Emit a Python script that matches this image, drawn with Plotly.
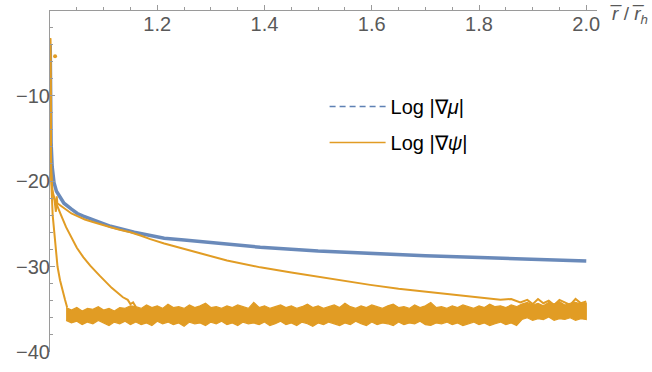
import plotly.graph_objects as go

# ---------------- data ----------------
MU_X = [1.0004, 1.001, 1.002, 1.004, 1.0075, 1.012, 1.019, 1.026, 1.04, 1.051, 1.062,
        1.082, 1.113, 1.157, 1.187, 1.213, 1.25, 1.3, 1.392, 1.5, 1.597, 1.7, 1.802, 1.9, 2.0]
MU_Y = [-4.0, -10.0, -15.5, -18.3, -20.2, -21.2, -22.0, -22.6, -23.3, -23.8, -24.1,
        -24.6, -25.3, -26.0, -26.4, -26.7, -26.9, -27.2, -27.75, -28.2, -28.5, -28.75, -28.95, -29.15, -29.35]

PSI_A_X = [1.0004, 1.001, 1.002, 1.004, 1.008, 1.011, 1.0125, 1.0137, 1.016, 1.02, 1.03, 1.04,
           1.051, 1.065, 1.08, 1.095, 1.113, 1.13, 1.15, 1.17, 1.187, 1.213, 1.25, 1.28, 1.33,
           1.392, 1.45, 1.498, 1.55, 1.597, 1.65, 1.721, 1.76, 1.802, 1.84, 1.86, 1.877, 1.89,
           1.9, 1.91, 1.92, 1.93, 1.94, 1.95, 1.96, 1.97, 1.98, 1.99, 2.0]
PSI_A_Y = [-3.3, -12.0, -18.5, -21.0, -22.0, -23.6, -21.8, -22.6, -22.7, -22.9, -23.4, -23.8,
           -24.1, -24.5, -24.8, -25.1, -25.4, -25.7, -26.0, -26.4, -26.8, -27.3, -27.9, -28.45, -29.3,
           -30.1, -30.7, -31.2, -31.7, -32.15, -32.6, -33.1, -33.4, -33.7, -33.9, -33.8, -34.2, -33.9,
           -34.4, -33.8, -34.3, -34.0, -34.5, -33.9, -34.2, -34.5, -33.8, -34.3, -34.1]

PSI_B_X = [1.0004, 1.002, 1.005, 1.01, 1.02, 1.03, 1.04, 1.05, 1.062, 1.075, 1.093, 1.115,
           1.136, 1.145, 1.15, 1.155, 1.16]
PSI_B_Y = [-3.3, -19.0, -21.6, -22.3, -23.9, -25.4, -26.7, -27.8, -28.9, -29.9, -31.1, -32.5,
           -33.6, -33.9, -34.4, -34.2, -34.7]

PSI_C_X = [1.0004, 1.001, 1.0023, 1.005, 1.0093, 1.014, 1.0187, 1.023, 1.028, 1.032]
PSI_C_Y = [-3.3, -14.0, -20.0, -24.0, -27.0, -30.0, -31.6, -32.8, -33.9, -34.8]

PSI_DOT_X = [1.0095]
PSI_DOT_Y = [-5.4]

# noise floor band (upper / lower envelope, one value every 0.01 from 1.03 to 2.00)
BAND_START = 1.03
BAND_STEP = 0.01
BAND_TOP = [
    -34.8, -35.1, -34.8, -35.2, -34.9, -35.0, -34.7, -35.1, -34.9, -35.2, -34.8, -34.9, -34.6,
    -34.7, -34.9, -34.5, -34.8, -34.6, -34.9, -34.4, -34.8, -34.7, -34.9, -34.5, -34.8,
    -34.6, -34.3, -34.8, -34.7, -34.9, -34.6, -34.8, -34.5, -34.7, -34.9, -34.2, -34.8,
    -34.6, -34.9, -34.7, -34.5, -34.8, -34.6, -34.9, -34.7, -34.4, -34.8, -34.6, -34.9,
    -34.7, -34.5, -34.8, -34.3, -34.7, -34.9, -34.6, -34.8, -34.5, -34.7, -34.9, -34.6,
    -34.4, -34.8, -34.7, -34.9, -34.5, -34.8, -34.6, -34.2, -34.8, -34.7, -34.9, -34.6,
    -34.8, -34.5, -34.7, -34.9, -34.6, -34.8, -34.4, -34.7, -34.6, -34.8, -34.5, -34.7,
    -34.4, -34.2, -34.5, -34.3, -34.6, -34.2, -34.4, -34.1, -34.5, -34.3, -34.2, -34.4, -34.3]
BAND_BOTTOM = [
    -36.3, -36.6, -36.4, -36.8, -36.5, -36.7, -36.3, -36.6, -36.9, -36.5, -36.7, -36.4, -36.8,
    -36.5, -36.8, -36.6, -36.9, -36.4, -36.7, -36.5, -36.8, -36.6, -37.0, -36.5, -36.7,
    -36.6, -36.9, -36.5, -36.7, -36.4, -36.8, -36.6, -36.9, -36.5, -36.7, -36.6, -36.8,
    -36.5, -36.9, -36.7, -36.4, -36.8, -36.6, -36.9, -36.5, -36.7, -37.0, -36.6, -36.8,
    -36.5, -36.7, -36.9, -36.6, -36.8, -36.4, -36.7, -36.9, -36.5, -36.8, -36.6, -36.7,
    -36.9, -36.5, -36.8, -36.6, -36.7, -36.4, -36.8, -36.9, -36.6, -36.7, -36.5, -36.8,
    -36.6, -36.9, -36.7, -36.5, -36.8, -36.6, -36.9, -36.7, -36.5, -36.8, -36.6, -36.9,
    -36.2, -36.0, -36.3, -36.1, -36.2, -35.9, -36.3, -36.1, -36.2, -36.0, -36.3, -36.1, -36.2]
BAND_X = [round(BAND_START + BAND_STEP * i, 2) for i in range(len(BAND_TOP))]

X_TICKS = [1.2, 1.4, 1.6, 1.8, 2.0]
X_TICK_TEXT = ["1.2", "1.4", "1.6", "1.8", "2.0"]
Y_TICKS = [-40, -30, -20, -10]
Y_TICK_TEXT = ["\u221240", "\u221230", "\u221220", "\u221210"]
X_MINOR = [round(1.0 + 0.05 * i, 2) for i in range(21)]
Y_MINOR = list(range(-40, 1, 2))

LEGEND_NAMES = ["Log |\u2207<i>\u03bc</i>|", "Log |\u2207<i>\u03c8</i>|"]

BLUE = "#5E81B5"
ORANGE = "#E19C24"
AXIS = "#9a9a9a"
LABEL = "#595959"
FONT = "Liberation Sans, Arial, sans-serif"

fig = go.Figure()

# noise band
fig.add_trace(go.Scatter(
    x=BAND_X + BAND_X[::-1], y=BAND_TOP + BAND_BOTTOM[::-1],
    mode="lines", fill="toself", fillcolor=ORANGE,
    line=dict(color=ORANGE, width=1.2), showlegend=False, hoverinfo="skip"))

# blue curve
fig.add_trace(go.Scatter(x=MU_X, y=MU_Y, mode="lines",
                         line=dict(color=BLUE, width=3.5),
                         opacity=0.92, showlegend=False))

for xs, ys in [(PSI_A_X, PSI_A_Y), (PSI_B_X, PSI_B_Y), (PSI_C_X, PSI_C_Y)]:
    fig.add_trace(go.Scatter(x=xs, y=ys, mode="lines",
                             line=dict(color=ORANGE, width=2), showlegend=False))

fig.add_trace(go.Scatter(x=PSI_DOT_X, y=PSI_DOT_Y, mode="markers",
                         marker=dict(color=ORANGE, size=4), showlegend=False))

# legend-only entries
fig.add_trace(go.Scatter(x=[None], y=[None], mode="lines", name=LEGEND_NAMES[0],
                         legendgroup="a",
                         line=dict(color=BLUE, width=1.5, dash="6px,4px")))
fig.add_trace(go.Scatter(x=[None], y=[None], mode="lines", name=LEGEND_NAMES[1],
                         legendgroup="b",
                         line=dict(color=ORANGE, width=1.5)))

fig.update_layout(
    width=652, height=372,
    margin=dict(l=50, r=55, t=10, b=20, autoexpand=False),
    plot_bgcolor="white", paper_bgcolor="white",
    font=dict(family=FONT, size=20, color=LABEL),
    xaxis=dict(range=[1.0, 2.02], anchor="free", position=1, side="bottom",
               automargin=False,
               showline=True, linecolor=AXIS, linewidth=1,
               ticks="inside", ticklen=5, tickcolor=AXIS, tickwidth=1,
               tickmode="array", tickvals=X_TICKS, ticktext=X_TICK_TEXT,
               tickfont=dict(size=20, color=LABEL, family=FONT),
               ticklabelstandoff=-4,
               showgrid=False, zeroline=False,
               minor=dict(tickmode="array", tickvals=X_MINOR, ticks="inside",
                          ticklen=3, tickcolor=AXIS, showgrid=False)),
    yaxis=dict(range=[-40, 0], showline=True, linecolor=AXIS, linewidth=1,
               automargin=False,
               ticks="inside", ticklen=5, tickcolor=AXIS, tickwidth=1,
               tickmode="array", tickvals=Y_TICKS, ticktext=Y_TICK_TEXT,
               tickfont=dict(size=20, color=LABEL, family=FONT),
               ticklabelstandoff=-5,
               showgrid=False, zeroline=False,
               minor=dict(tickmode="array", tickvals=Y_MINOR, ticks="inside",
                          ticklen=3, tickcolor=AXIS, showgrid=False)),
    legend=dict(x=0.502, y=0.775, xanchor="left", yanchor="top",
                bgcolor="rgba(0,0,0,0)", borderwidth=0,
                font=dict(size=20, color="black", family=FONT),
                tracegroupgap=7, itemwidth=56),
    showlegend=True,
)

fig.add_annotation(xref="paper", yref="paper", x=(650 - 50) / 547, y=0.985,
                   xanchor="right", yanchor="middle", showarrow=False,
                   text="<i>r\u0305</i> / <i>r\u0305</i><sub><i>h</i></sub>",
                   font=dict(size=19, color=LABEL, family=FONT))

fig.write_html("out.html", config={"displayModeBar": False},
               post_script="document.body.style.margin='0px';")
